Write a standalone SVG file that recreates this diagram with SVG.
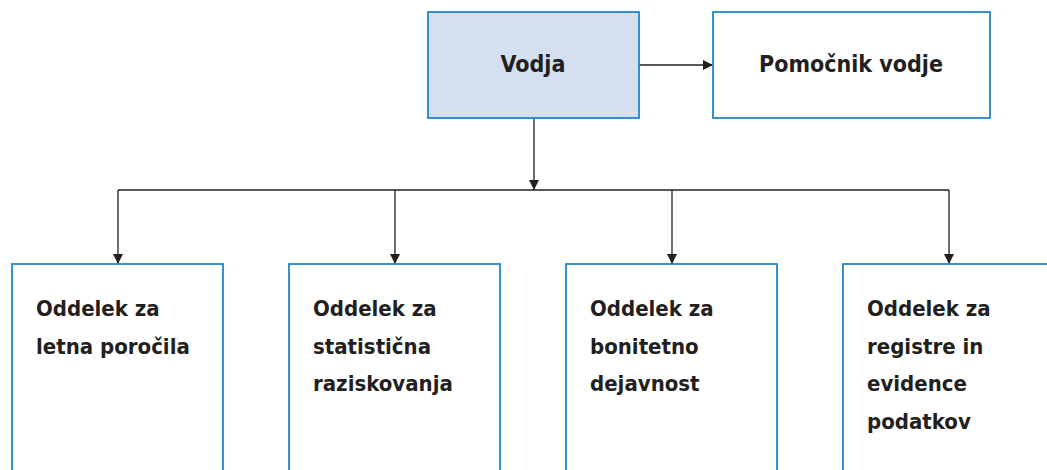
<svg xmlns="http://www.w3.org/2000/svg" width="1047" height="470" viewBox="0 0 1047 470">
<style>
.box{fill:#ffffff;stroke:#1f87c9;stroke-width:1.8}
.lead{fill:#d4e0f1}
.t{font-family:"DejaVu Sans Condensed","DejaVu Sans",sans-serif;font-stretch:condensed;font-weight:bold;font-size:22px;fill:#231f20}
.c{text-anchor:middle;font-size:23px}
.ln{fill:none;stroke:#231f20;stroke-width:1.3}
</style>
<defs>
<marker id="ah" viewBox="0 0 10 10" refX="10" refY="5" markerWidth="10" markerHeight="10" markerUnits="userSpaceOnUse" orient="auto">
<path d="M0,0 L10,5 L0,10 z" fill="#231f20"/>
</marker>
</defs>
<g id="connectors">
<line class="ln" x1="639" y1="65" x2="713" y2="65" marker-end="url(#ah)"/>
<line class="ln" x1="534" y1="118" x2="534" y2="190" marker-end="url(#ah)"/>
<polyline class="ln" points="118,190 949,190"/>
<line class="ln" x1="118" y1="190" x2="118" y2="264" marker-end="url(#ah)"/>
<line class="ln" x1="395" y1="190" x2="395" y2="264" marker-end="url(#ah)"/>
<line class="ln" x1="672" y1="190" x2="672" y2="264" marker-end="url(#ah)"/>
<line class="ln" x1="949" y1="190" x2="949" y2="264" marker-end="url(#ah)"/>
</g>
<g id="vodja">
<rect class="box lead" x="428" y="12" width="211" height="106"/>
<text class="t c" x="533" y="72">Vodja</text>
</g>
<g id="pomocnik">
<rect class="box" x="713" y="12" width="277" height="106"/>
<text class="t c" x="851" y="72">Pomočnik vodje</text>
</g>
<g id="oddelek1">
<rect class="box" x="12" y="264" width="211" height="220"/>
<text class="t" x="36" y="316">Oddelek za</text>
<text class="t" x="36" y="354">letna poročila</text>
</g>
<g id="oddelek2">
<rect class="box" x="289" y="264" width="211" height="220"/>
<text class="t" x="313" y="316">Oddelek za</text>
<text class="t" x="313" y="354">statistična</text>
<text class="t" x="313" y="391">raziskovanja</text>
</g>
<g id="oddelek3">
<rect class="box" x="566" y="264" width="211" height="220"/>
<text class="t" x="590" y="316">Oddelek za</text>
<text class="t" x="590" y="354">bonitetno</text>
<text class="t" x="590" y="391">dejavnost</text>
</g>
<g id="oddelek4">
<rect class="box" x="843" y="264" width="230" height="220"/>
<text class="t" x="867" y="316">Oddelek za</text>
<text class="t" x="867" y="354">registre in</text>
<text class="t" x="867" y="391">evidence</text>
<text class="t" x="867" y="429">podatkov</text>
</g>
</svg>
